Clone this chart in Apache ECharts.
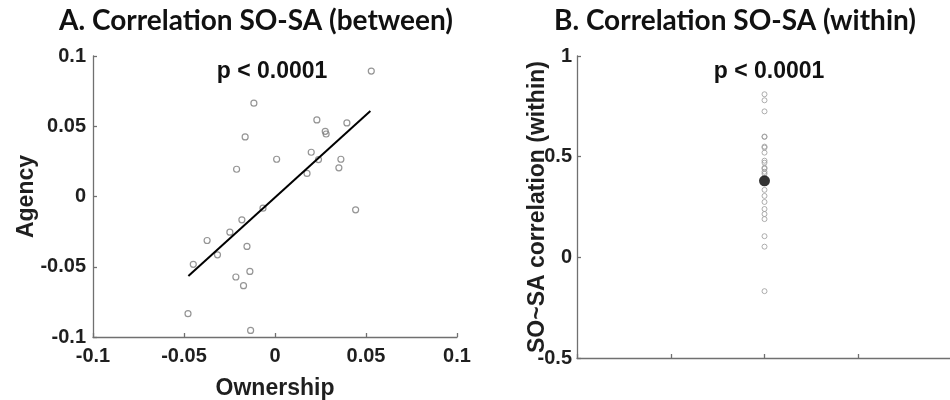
<!DOCTYPE html>
<html>
<head>
<meta charset="utf-8">
<script src="https://cdn.jsdelivr.net/npm/echarts@6/dist/echarts.min.js"></script>
<style>
  html, body { margin: 0; padding: 0; background: #fff; }
  #container { width: 950px; height: 400px; }
</style>
</head>
<body>
<div id="container"></div>
<script>
// panel A: between-subject values
const ownership = [0.0529, -0.0116, 0.0230, 0.0395, 0.0276, 0.0281, -0.0164, 0.0009, 0.0199,
  0.0239, 0.0362, 0.0351, -0.0211, 0.0176, -0.0066, 0.0443, -0.0182, -0.0248, -0.0373,
  -0.0154, -0.0316, -0.0449, -0.0138, -0.0215, -0.0173, -0.0478, -0.0134];
const agency = [0.0893, 0.0664, 0.0545, 0.0524, 0.0464, 0.0445, 0.0424, 0.0265, 0.0315,
  0.0263, 0.0265, 0.0204, 0.0194, 0.0164, -0.0083, -0.0095, -0.0166, -0.0254, -0.0313,
  -0.0355, -0.0415, -0.0483, -0.0533, -0.0573, -0.0635, -0.0834, -0.0953];
const fitX = [-0.0476, 0.0524];
const fitY = [-0.0566, 0.0609];

// panel B: within-subject correlations
const withinCorr = [0.81, 0.78, 0.725, 0.60, 0.598, 0.55, 0.545, 0.52, 0.48, 0.47, 0.445,
  0.44, 0.425, 0.415, 0.335, 0.305, 0.275, 0.24, 0.215, 0.19, 0.105, 0.053, -0.168];
const withinMean = 0.38;
const withinX = 2;

const pText = 'p < 0.0001';
const titleA = 'A. Correlation SO-SA (between)';
const titleB = 'B. Correlation SO-SA (within)';

var dom = document.getElementById('container');
var myChart = echarts.init(dom, null, { renderer: 'canvas' });

const txt = '#1f1f1f';
const axisCol = '#707070';
const lblFont = { color: txt, fontFamily: 'Liberation Sans', fontWeight: 'bold', fontSize: 20 };
const nameFont = { color: txt, fontFamily: 'Liberation Sans', fontWeight: 'bold', fontSize: 23 };

function axisBase() {
  return {
    axisLine: { show: true, onZero: false, lineStyle: { color: axisCol, width: 1.3 } },
    axisTick: { show: true, inside: true, length: 4, lineStyle: { color: axisCol, width: 1.3 } },
    splitLine: { show: false },
    nameMoveOverlap: false
  };
}

var option = {
  animation: false,
  title: [
    { text: titleA, left: 251, top: 2, textAlign: 'center',
      textStyle: { fontFamily: 'Lato', fontWeight: 'bold', fontSize: 28, color: '#111' } },
    { text: titleB, left: 730, top: 2, textAlign: 'center',
      textStyle: { fontFamily: 'Lato', fontWeight: 'bold', fontSize: 28, color: '#111' } },
    { text: pText, left: 267, top: 55, textAlign: 'center',
      textStyle: { fontFamily: 'Liberation Sans', fontWeight: 'bold', fontSize: 23, color: '#111' } },
    { text: pText, left: 764, top: 55, textAlign: 'center',
      textStyle: { fontFamily: 'Liberation Sans', fontWeight: 'bold', fontSize: 23, color: '#111' } }
  ],
  grid: [
    { left: 93, top: 56, width: 364, height: 281, outerBoundsMode: 'none' },
    { left: 577, top: 56, width: 375, height: 302, outerBoundsMode: 'none' }
  ],
  xAxis: [
    Object.assign(axisBase(), {
      gridIndex: 0, type: 'value', min: -0.1, max: 0.1, interval: 0.05,
      name: 'Ownership', nameLocation: 'middle', nameGap: 40,
      nameTextStyle: nameFont,
      axisLabel: Object.assign({ margin: 9, showMinLabel: true, showMaxLabel: true }, lblFont)
    }),
    Object.assign(axisBase(), {
      gridIndex: 1, type: 'value', min: 0, max: 4, interval: 1,
      axisLabel: { show: false }
    })
  ],
  yAxis: [
    Object.assign(axisBase(), {
      gridIndex: 0, type: 'value', min: -0.1, max: 0.1, interval: 0.05,
      name: 'Agency', nameLocation: 'middle', nameGap: 55,
      nameTextStyle: nameFont,
      axisLabel: Object.assign({ margin: 7 }, lblFont)
    }),
    Object.assign(axisBase(), {
      gridIndex: 1, type: 'value', min: -0.5, max: 1, interval: 0.5,
      name: 'SO~SA correlation (within)', nameLocation: 'middle', nameGap: 28,
      nameTextStyle: nameFont,
      axisLabel: Object.assign({ margin: 5 }, lblFont)
    })
  ],
  series: [
    {
      type: 'scatter', xAxisIndex: 0, yAxisIndex: 0,
      data: ownership.map((x, i) => [x, agency[i]]),
      symbol: 'circle', symbolSize: 6,
      itemStyle: { color: 'rgba(0,0,0,0)', borderColor: '#7a7a7a', borderWidth: 1.2 }
    },
    {
      type: 'line', xAxisIndex: 0, yAxisIndex: 0,
      data: fitX.map((x, i) => [x, fitY[i]]),
      showSymbol: false, symbol: 'none',
      lineStyle: { color: '#000', width: 2 }
    },
    {
      type: 'scatter', xAxisIndex: 1, yAxisIndex: 1,
      data: withinCorr.map(v => [withinX, v]),
      symbol: 'circle', symbolSize: 5,
      itemStyle: { color: 'rgba(0,0,0,0)', borderColor: '#9a9a9a', borderWidth: 1 }
    },
    {
      type: 'scatter', xAxisIndex: 1, yAxisIndex: 1,
      data: [[withinX, withinMean]],
      symbol: 'circle', symbolSize: 11,
      itemStyle: { color: '#000' }
    }
  ]
};

myChart.setOption(option);
window.addEventListener('resize', myChart.resize);
</script>
</body>
</html>
